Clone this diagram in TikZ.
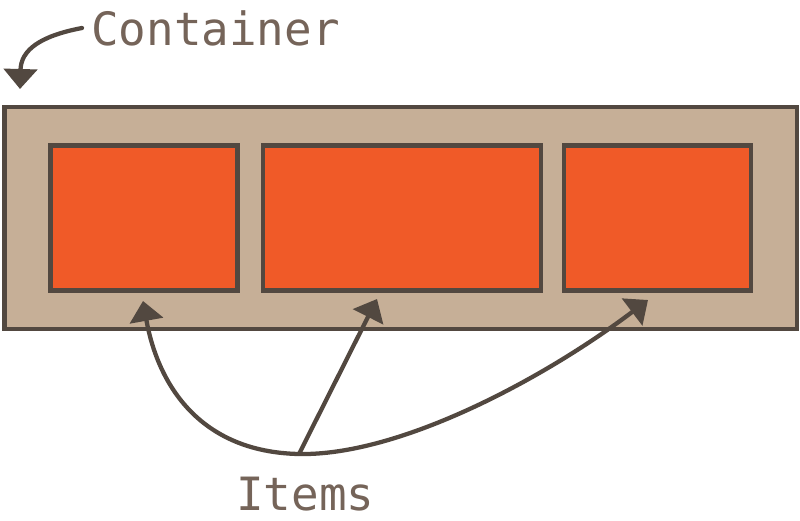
\documentclass[tikz,border=0pt]{standalone}
\usepackage{fontspec}
\setmonofont{DejaVu Sans Mono}
\usetikzlibrary{arrows.meta}
\definecolor{edge}{HTML}{524840}
\definecolor{boxfill}{HTML}{C6AF97}
\definecolor{itemfill}{HTML}{F05A28}
\definecolor{label}{HTML}{756459}
\tikzset{
  box/.style={draw=edge, line width=3.3pt, inner sep=0pt, outer sep=0pt},
  container/.style={box, fill=boxfill, minimum width=594.4pt, minimum height=166.9pt},
  itembox/.style={box, fill=itemfill, minimum height=108.75pt},
  lbl/.style={text=label, font=\ttfamily\fontsize{34.4}{40}\selectfont, inner sep=0pt, anchor=base west},
  pointer/.style={draw=edge, line width=3.2pt, -{Triangle[length=15pt,width=25pt]}}
}
\begin{document}
\begin{tikzpicture}[x=0.75pt,y=-0.75pt]
\useasboundingbox (0,0) rectangle (800,521);
\node[container] (cont) at (400.75,218) {};
\node[itembox, minimum width=140.25pt] (item1) at (144,218) {};
\node[itembox, minimum width=208.5pt] (item2) at (402,218) {};
\node[itembox, minimum width=140.25pt] (item3) at (657.5,218) {};
\node[lbl] (clabel) at (91,45) {Container};
\node[lbl] (ilabel) at (236,510) {Items};
\coordinate (cstart) at (82,28);
\coordinate (ctip) at (20,89);
\coordinate (src) at (299,454);
\coordinate (t1) at (143,301);
\coordinate (t2) at (377,299);
\coordinate (t3) at (648,300);
\draw[pointer, line cap=round] (cstart) .. controls (40,36) and (21,50) .. (ctip);
\draw[pointer] (src) .. controls (200,452) and (158,385) .. (t1);
\draw[pointer] (src) -- (t2);
\draw[pointer] (src) .. controls (400,456) and (545,378) .. (t3);
\end{tikzpicture}
\end{document}
